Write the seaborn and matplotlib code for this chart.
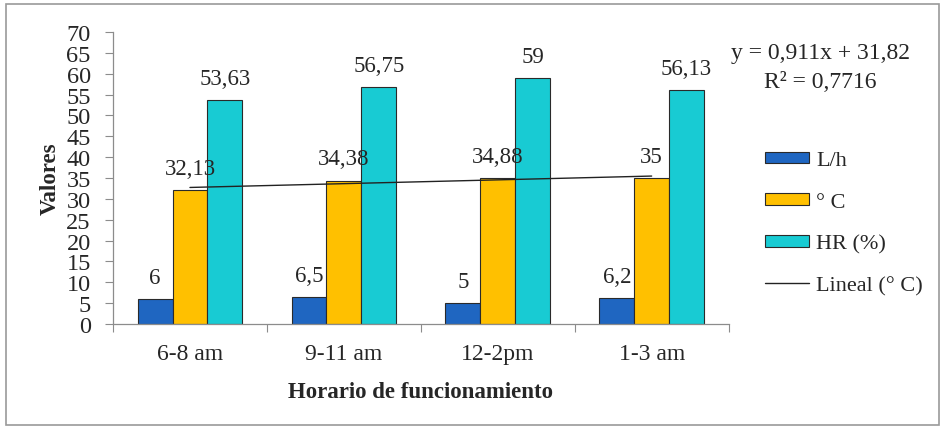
import matplotlib
matplotlib.use("Agg")
import matplotlib.pyplot as plt
import seaborn as sns
import pandas as pd
from matplotlib.patches import Rectangle
from matplotlib.lines import Line2D

categories = ["6-8 am", "9-11 am", "12-2pm", "1-3 am"]
series_names = ["L/h", "° C", "HR (%)"]
lh_values = [6, 6.5, 5, 6.2]
temp_values = [32.13, 34.38, 34.88, 35]
hr_values = [53.63, 56.75, 59, 56.13]
trend_slope = 0.911
trend_intercept = 31.82
trend_r2 = 0.7716
y_ticks = list(range(0, 75, 5))

colors = ["#1F66C1", "#FFC000", "#18CBD3"]

def fmt(v, nd=2):
    s = ("%.*f" % (nd, v)).rstrip("0").rstrip(".")
    return s.replace(".", ",")

rows = []
for name, vals in zip(series_names, [lh_values, temp_values, hr_values]):
    for c, v in zip(categories, vals):
        rows.append({"cat": c, "serie": name, "valor": v})
df = pd.DataFrame(rows)

sns.set_style("white")
plt.rcParams["font.family"] = ["Liberation Serif", "DejaVu Serif"]

fig = plt.figure(figsize=(9.45, 4.31), dpi=100)
ax = fig.add_axes([0.1196, 0.246, 0.771 - 0.1196, 0.9234 - 0.246])

sns.barplot(data=df, x="cat", y="valor", hue="serie", order=categories,
            hue_order=series_names, palette=colors, saturation=1, width=0.68, gap=0,
            edgecolor="#2a2a2a", linewidth=0.8, ax=ax, legend=False)

for cont in ax.containers:
    labels = [fmt(b.get_height()) for b in cont]
    ax.bar_label(cont, labels=labels, padding=8, fontsize=16.5)

# linear trend line for ° C
xs = list(range(len(categories)))
ys = [trend_slope * (i + 1) + trend_intercept for i in xs]
ax.plot(xs, ys, color="#222222", linewidth=1.0)

ax.set_xlim(-0.5, len(categories) - 0.5)
ax.set_ylim(0, 70)
ax.set_yticks(y_ticks)
ax.set_yticklabels([str(t) for t in y_ticks], fontsize=17.5)
ax.set_xticks(xs)
ax.set_xticklabels(categories, fontsize=17)
ax.tick_params(axis="x", length=0, pad=14)
ax.tick_params(axis="y", length=6, width=0.8, color="#8c8c8c", pad=10, left=True)
ax.set_xticks([i - 0.5 for i in range(len(categories) + 1)], minor=True)
ax.tick_params(axis="x", which="minor", length=6, width=0.8, color="#8c8c8c", bottom=True)

for s in ["top", "right"]:
    ax.spines[s].set_visible(False)
for s in ["left", "bottom"]:
    ax.spines[s].set_color("#8c8c8c")
    ax.spines[s].set_linewidth(0.9)

ax.set_xlabel("Horario de funcionamiento", fontsize=16.5, fontweight="bold", labelpad=12)
ax.set_ylabel("Valores", fontsize=16.5, fontweight="bold", labelpad=4)

fig.text(0.868, 0.877, "y = %sx + %s" % (fmt(trend_slope, 3), fmt(trend_intercept)),
         fontsize=17, ha="center", va="center")
fig.text(0.868, 0.808, "R² = %s" % fmt(trend_r2, 4), fontsize=17,
         ha="center", va="center")

handles = [Rectangle((0, 0), 1, 1, facecolor=c, edgecolor="#2a2a2a", linewidth=0.8)
           for c in colors]
handles.append(Line2D([0], [0], color="#222222", linewidth=1.0))
labels = series_names + ["Lineal (° C)"]
fig.legend(handles, labels, loc="upper left", bbox_to_anchor=(0.800, 0.667),
           frameon=False, fontsize=16, handlelength=2.0, handleheight=0.45,
           labelspacing=1.01, handletextpad=0.3, borderaxespad=0)

fig.patches.append(Rectangle((0.006, 0.012), 0.988, 0.976, transform=fig.transFigure,
                             fill=False, edgecolor="#9a9a9a", linewidth=1.2))

fig.savefig("out.png", dpi=100)
